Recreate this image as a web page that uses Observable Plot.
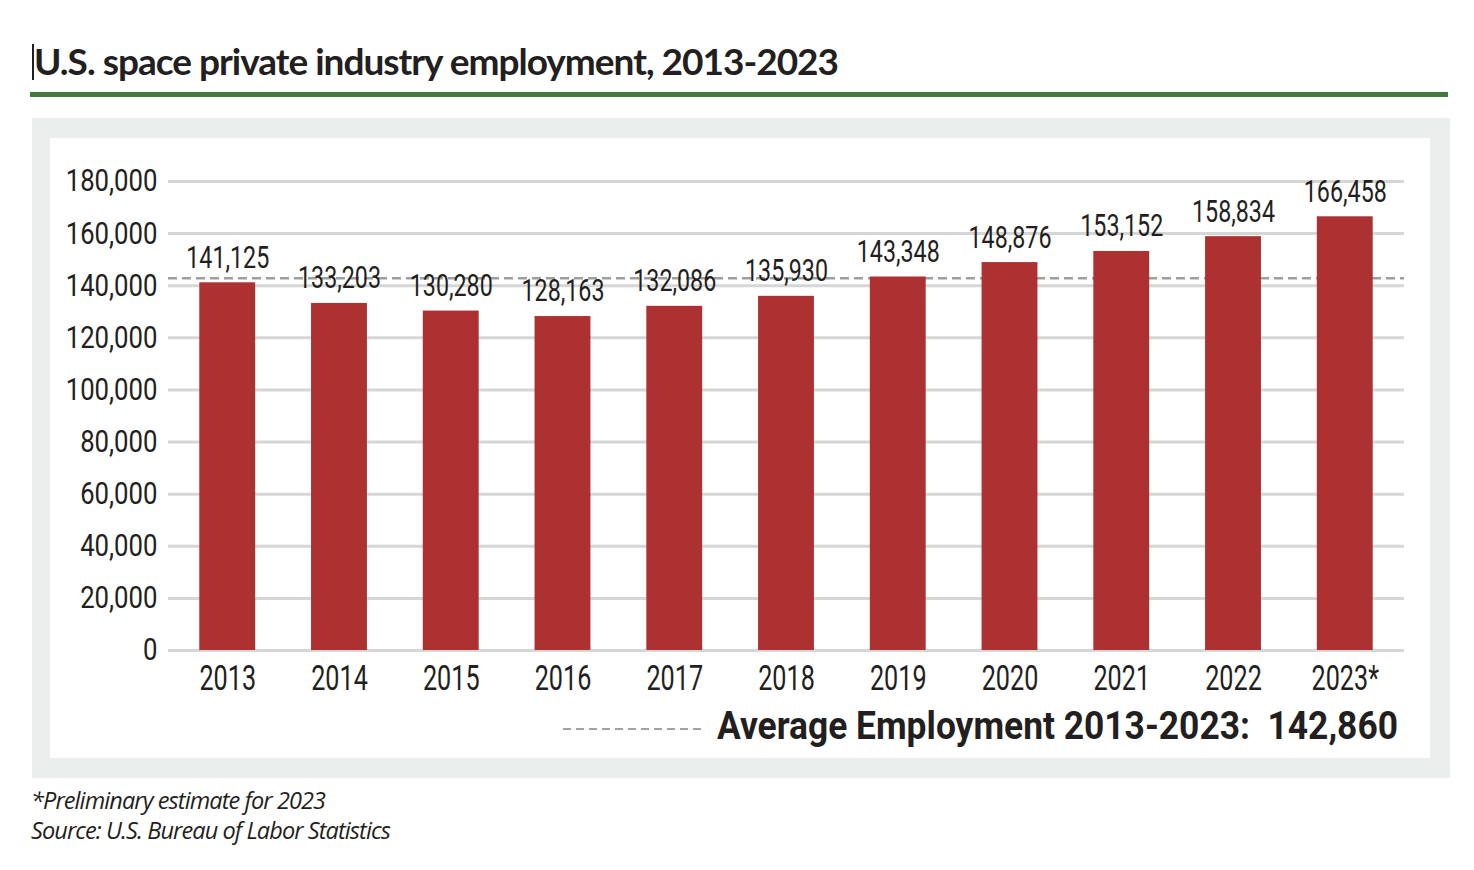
<!DOCTYPE html>
<html><head><meta charset="utf-8">
<script src="https://cdn.jsdelivr.net/npm/d3@7"></script>
<script src="https://cdn.jsdelivr.net/npm/@observablehq/plot@0.6"></script>
<style>
  html,body{margin:0;padding:0;background:#fff;}
  body{width:1474px;height:870px;position:relative;overflow:hidden;color:#231f20;
       font-family:Roboto,"Open Sans",sans-serif;}
  #title{position:absolute;left:34px;top:39px;font-family:Lato,"Open Sans",sans-serif;font-weight:700;
         font-size:37px;letter-spacing:-1px;white-space:nowrap;line-height:44px;}
  #cursor{position:absolute;left:32px;top:44px;width:2px;height:36px;background:#231f20;}
  #rule{position:absolute;left:30px;top:92px;width:1418px;height:5px;background:#41793f;}
  #panel{position:absolute;left:32px;top:118px;width:1418px;height:660px;background:#eceeed;}
  #inner{position:absolute;left:50px;top:138px;width:1380px;height:620px;background:#fff;}
  #chart{position:absolute;left:0;top:138px;}
  #legline{position:absolute;left:563px;top:726px;}
  #legtext{position:absolute;left:717px;top:704px;font-weight:700;font-size:39px;line-height:44px;
           white-space:nowrap;transform-origin:0 50%;}
  #notes{position:absolute;left:31px;top:785px;font-family:"Open Sans",Lato,sans-serif;font-style:italic;
         font-size:23.5px;line-height:30px;letter-spacing:-0.9px;white-space:nowrap;}
</style>
</head><body>
<div id="cursor"></div>
<div id="title">U.S. space private industry employment, 2013-2023</div>
<div id="rule"></div>
<div id="panel"></div>
<div id="inner"></div>
<div id="chart"></div>
<svg id="legline" width="140" height="6"><line x1="0" x2="140" y1="3" y2="3" stroke="#a0a2a5" stroke-width="2" stroke-dasharray="8,5"/></svg>
<span id="legtext">Average Employment 2013-2023:&nbsp; 142,860</span>
<div id="notes">*Preliminary estimate for 2023<br>Source: U.S. Bureau of Labor Statistics</div>
<script>
const years = ["2013","2014","2015","2016","2017","2018","2019","2020","2021","2022","2023*"];
const employment = [141125,133203,130280,128163,132086,135930,143348,148876,153152,158834,166458];
const yTicks = [0,20000,40000,60000,80000,100000,120000,140000,160000,180000];
const average = 142860;

const fmt = d3.format(",");
const data = years.map((year, i) => ({year, value: employment[i]}));
const font = 'Roboto,"Open Sans",sans-serif';

const chart = Plot.plot({
  width: 1474,
  height: 620,
  marginLeft: 168,
  marginRight: 70,
  marginTop: 43,
  marginBottom: 108,
  style: {background: "transparent", fontFamily: font, color: "#231f20", overflow: "visible"},
  x: {domain: years, paddingInner: 0.5, paddingOuter: 0.28, round: false, label: null},
  y: {domain: [0, 180000], label: null},
  marks: [
    Plot.gridY(yTicks, {stroke: "#d6d6d6", strokeOpacity: 1, strokeWidth: 3}),
    Plot.ruleY([average], {stroke: "#9c9ea1", strokeWidth: 2.5, strokeDasharray: "9,5"}),
    Plot.barY(data, {x: "year", y: "value", fill: "#ad3131"}),
    Plot.text(data, {x: "year", y: "value", text: d => fmt(d.value), lineAnchor: "middle", dy: -25,
                     fontSize: 31, fill: "#231f20"}),
    Plot.axisY(yTicks, {tickSize: 0, tickPadding: 11, tickFormat: fmt, fontSize: 31, fill: "#231f20", label: null}),
    Plot.axisX({tickSize: 0, tickPadding: 15, fontSize: 35, fill: "#231f20", label: null})
  ]
});
document.getElementById("chart").appendChild(chart);

// condensed look: squeeze glyphs horizontally
function condense(selector, f) {
  chart.querySelectorAll(selector).forEach(t => {
    const L = t.getComputedTextLength();
    t.setAttribute("textLength", L * f);
    t.setAttribute("lengthAdjust", "spacingAndGlyphs");
  });
}
condense('g[aria-label="y-axis tick label"] text', 0.83);
condense('g[aria-label="x-axis tick label"] text', 0.72);
condense('g[aria-label="text"] text', 0.75);

// legend text squeezed to its width in the reference
const lt = document.getElementById("legtext");
const w = lt.getBoundingClientRect().width;
lt.style.transform = `scaleX(${681 / w})`;
</script>
</body></html>
